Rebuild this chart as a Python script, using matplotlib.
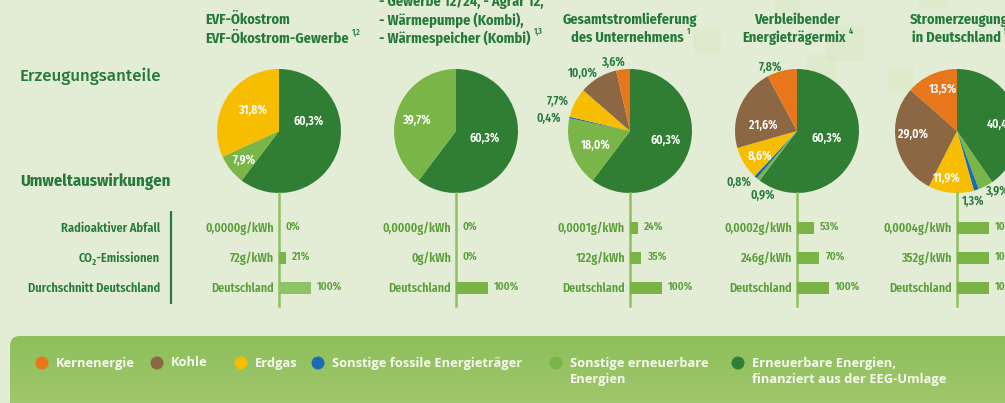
import matplotlib
matplotlib.use('Agg')
import matplotlib.pyplot as plt
from matplotlib.patches import FancyBboxPatch, Circle
import numpy as np

# --- data -------------------------------------------------------------
categories = ['Kernenergie', 'Kohle', 'Erdgas', 'Sonstige fossile Energieträger',
              'Sonstige erneuerbare\nEnergien', 'Erneuerbare Energien,\nfinanziert aus der EEG-Umlage']

# shares clockwise from 12 o'clock: EEG, sonst. erneuerbar, sonst. fossil, Erdgas, Kohle, Kern
pie_order = ['EEG', 'SonstErn', 'SonstFos', 'Erdgas', 'Kohle', 'Kern']
mix_evf = [60.3, 7.9, 0, 31.8, 0, 0]
mix_waerme = [60.3, 39.7, 0, 0, 0, 0]
mix_gesamt = [60.3, 18.0, 0.4, 7.7, 10.0, 3.6]
mix_rest = [60.3, 0.9, 0.8, 8.6, 21.6, 7.8]
mix_de = [40.4, 3.9, 1.3, 11.9, 29.0, 13.5]
mixes = [mix_evf, mix_waerme, mix_gesamt, mix_rest, mix_de]

radio_txt = ['0,0000g/kWh', '0,0000g/kWh', '0,0001g/kWh', '0,0002g/kWh', '0,0004g/kWh']
radio_pct = [0, 0, 24, 53, 100]
co2_txt = ['72g/kWh', '0g/kWh', '122g/kWh', '246g/kWh', '352g/kWh']
co2_pct = [21, 0, 35, 70, 100]
de_pct = [100, 100, 100, 100, 100]

row_labels = ['Radioaktiver Abfall', 'CO₂-Emissionen', 'Durchschnitt Deutschland']

# --- styles / layout ----------------------------------------------------
W, H = 1005, 403
def Y(py):
    return H - py

bg = '#E3EDD6'
txt_green = '#25793A'
val_green = '#5A9E38'
col = {'Kern': '#E8761B', 'Kohle': '#8B6744', 'Erdgas': '#F7BD00',
       'SonstFos': '#1A6DB4', 'SonstErn': '#7AB547', 'EEG': '#2F7E33'}
legend_cols = [col['Kern'], col['Kohle'], col['Erdgas'], col['SonstFos'], col['SonstErn'], col['EEG']]

FONT = ['Fira Sans Condensed', 'DejaVu Sans']
plt.rcParams['font.family'] = FONT
plt.rcParams['font.weight'] = 'semibold'

centers_x = [279, 456, 630, 797, 957]
pie_cy = 131
R = 62

# label offsets (px, y down) and colour per wedge, in pie_order
lab = [
    {'EEG': (30, -10, 'w'), 'SonstErn': (-35, 29, 'w'), 'Erdgas': (-27, -21, 'w')},
    {'EEG': (29, 7, 'w'), 'SonstErn': (-40, -11, 'w')},
    {'EEG': (36, 9, 'w'), 'SonstErn': (-34, 14, 'w'), 'SonstFos': (-81, -13, 'g'),
     'Erdgas': (-72, -30, 'g'), 'Kohle': (-47, -58, 'g'), 'Kern': (-17, -69, 'g')},
    {'EEG': (30, 7, 'w'), 'SonstErn': (-34, 64, 'g'), 'SonstFos': (-58, 51, 'g'),
     'Erdgas': (-37, 25, 'w'), 'Kohle': (-34, -6, 'w'), 'Kern': (-26, -64, 'g')},
    {'EEG': (45, -7, 'w'), 'SonstErn': (40, 60, 'g'), 'SonstFos': (16, 70, 'g'),
     'Erdgas': (-10, 47, 'w'), 'Kohle': (-44, 3, 'w'), 'Kern': (-14, -42, 'w')},
]

fig = plt.figure(figsize=(W / 100, H / 100), dpi=100)
fig.patch.set_facecolor(bg)
ax = fig.add_axes([0, 0, 1, 1])
ax.set_facecolor(bg)

# faint decorative squares
for (x0, y0, w, h) in [(693, 28, 28, 27), (775, -5, 25, 18), (826, 25, 38, 37),
                       (806, 55, 30, 25), (888, 67, 26, 25), (918, -5, 30, 13)]:
    ax.add_patch(FancyBboxPatch((x0 + 3, Y(y0 + h) + 3), w - 6, h - 6,
                                boxstyle='round,pad=3', fc='#D9E8C6', ec='none', alpha=0.6, zorder=0))

# pies
for i, mix in enumerate(mixes):
    keys = [k for k, v in zip(pie_order, mix) if v > 0]
    vals = [v for v in mix if v > 0]
    ax.pie(vals, colors=[col[k] for k in keys], startangle=90, counterclock=False,
           radius=R, center=(centers_x[i], Y(pie_cy)), wedgeprops=dict(linewidth=0), frame=True)
    for k, v in zip(keys, vals):
        dx, dy, c = lab[i][k]
        ax.text(centers_x[i] + dx, Y(pie_cy + dy), f'{v:.1f}%'.replace('.', ','),
                ha='center', va='center', fontsize=8.6,
                color='white' if c == 'w' else txt_green, zorder=5)

# column titles
def sup(t, s):
    ax.annotate(s, xy=(1, 0.62), xycoords=t, xytext=(2.5, 0), textcoords='offset points',
                fontsize=5.8, color=txt_green, va='bottom', ha='left')

ts = 10.3
tw = 'bold'
ax.text(205, Y(20), 'EVF-Ökostrom', fontsize=ts, color=txt_green, ha='left', va='center', fontweight=tw)
t = ax.text(205, Y(39), 'EVF-Ökostrom-Gewerbe', fontsize=ts, color=txt_green, ha='left', va='center', fontweight=tw)
sup(t, '1,2')
ax.text(379, Y(2), '- Gewerbe 12/24, - Agrar 12,', fontsize=ts, color=txt_green, ha='left', va='center', fontweight=tw)
ax.text(379, Y(20), '- Wärmepumpe (Kombi),', fontsize=ts, color=txt_green, ha='left', va='center', fontweight=tw)
t = ax.text(379, Y(38), '- Wärmespeicher (Kombi)', fontsize=ts, color=txt_green, ha='left', va='center', fontweight=tw)
sup(t, '1,3')
ax.text(630, Y(20), 'Gesamtstromlieferung', fontsize=ts, color=txt_green, ha='center', va='center', fontweight=tw)
t = ax.text(627, Y(38), 'des Unternehmens', fontsize=ts, color=txt_green, ha='center', va='center', fontweight=tw)
sup(t, '1')
ax.text(797, Y(20), 'Verbleibender', fontsize=ts, color=txt_green, ha='center', va='center', fontweight=tw)
t = ax.text(794, Y(38), 'Energieträgermix', fontsize=ts, color=txt_green, ha='center', va='center', fontweight=tw)
sup(t, '4')
ax.text(959, Y(20), 'Stromerzeugung', fontsize=ts, color=txt_green, ha='center', va='center', fontweight=tw)
t = ax.text(956, Y(38), 'in Deutschland', fontsize=ts, color=txt_green, ha='center', va='center', fontweight=tw)
sup(t, '5')

# section headings
ax.text(20, Y(76), 'Erzeugungsanteile', fontsize=12.2, color=txt_green, ha='left', va='center',
        family=['Fira Sans', 'DejaVu Sans'], fontweight='medium')
ax.text(20, Y(181), 'Umweltauswirkungen', fontsize=12.0, color=txt_green, ha='left', va='center',
        family=['Fira Sans Condensed', 'DejaVu Sans'], fontweight='bold')

# environmental rows
row_y = [228, 258, 288]
for y, l in zip(row_y, row_labels):
    ax.text(160, Y(y), l, fontsize=8.9, color=txt_green, ha='right', va='center')
ax.plot([171, 171], [Y(211), Y(304)], color=txt_green, lw=1.6, solid_capstyle='butt')

px_per_pct = 0.32
bar_h = 12
for i, cx in enumerate(centers_x):
    ax.plot([cx, cx], [Y(pie_cy + R), Y(306)], color='#8DC162', lw=1.8, zorder=1)
    rows = [(radio_txt[i], radio_pct[i]), (co2_txt[i], co2_pct[i]), ('Deutschland', de_pct[i])]
    for (vt, p), y in zip(rows, row_y):
        ax.text(cx - 5, Y(y), vt, fontsize=8.7, color=val_green, ha='right', va='center')
        bc = '#8EC465' if i == 0 and vt == 'Deutschland' else '#79B444'
        ax.barh(Y(y), p * px_per_pct, left=cx, height=bar_h, color=bc, zorder=2)
        ax.text(cx + p * px_per_pct + 6, Y(y - 1), f'{p}%', fontsize=8, color=val_green,
                ha='left', va='center')

# legend box with gradient
box = FancyBboxPatch((10, -20), 1100, Y(336) + 20, boxstyle='round,pad=0,rounding_size=10',
                     fc='none', ec='none', zorder=3)
ax.add_patch(box)
grad = np.linspace(0, 1, 100).reshape(-1, 1)
top = np.array([166, 202, 114]) / 255
bot = np.array([141, 191, 90]) / 255
img = top + (bot - top) * grad[:, :, None] * np.ones((1, 1, 3))
im = ax.imshow(img[::-1], extent=(10, 1110, -20, Y(336)), aspect='auto', zorder=3)
im.set_clip_path(box)

leg_x = [42, 157, 241, 318, 556, 738]
for x, c, name in zip(leg_x, legend_cols, categories):
    ax.add_patch(Circle((x, Y(363)), 6.5, fc=c, ec='none', zorder=4))
    for j, line in enumerate(name.split('\n')):
        ax.text(x + 14, Y(366.5 + 16 * j), line, fontsize=9.3, color='#F6F9F0', ha='left',
                va='baseline', zorder=5, family=['Open Sans', 'DejaVu Sans'], fontweight='bold')

ax.set_xlim(0, W)
ax.set_ylim(0, H)
ax.set_aspect('equal')
ax.axis('off')

fig.savefig('out.png', dpi=100, facecolor=bg)
